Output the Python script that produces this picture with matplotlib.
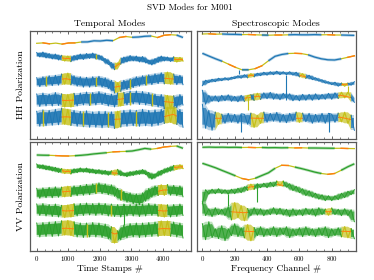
import numpy as np
import matplotlib
matplotlib.use("Agg")
import matplotlib.pyplot as plt
from matplotlib.patches import Rectangle
from matplotlib.ticker import MultipleLocator, AutoMinorLocator

plt.rcParams['font.family'] = ['cmr10', 'DejaVu Serif']
plt.rcParams['mathtext.fontset'] = 'cm'
plt.rcParams['axes.formatter.use_mathtext'] = True

# ---------------- data ----------------
title = "SVD Modes for M001"
col_titles = ["Temporal Modes", "Spectroscopic Modes"]
row_labels = ["HH Polarization", "VV Polarization"]
x_labels = ["Time Stamps #", "Frequency Channel #"]

n_time_stamps = 4640
n_channels = 940

# HH temporal modes
hh_time_m1 = [0, 0.4, -0.5, 0.2, -0.8, 0.3, 0.4, 1.3, 1.4, 2.5, 2.3, 3.0, 2.6, 5.8, 6.8, 6.0, 6.3, 7.0, 7.3, 5.8, 8.0, 8.6, 8.2, 5.8]
hh_time_m2 = [2.5, -2, 3, -3, 1.5, -4, 1, -5, -0.5, -6, -1, -6.5, -0.5, -5, 1, -4.5, 1.5, -3.5, 2, -4, 0, -5.5, -3.5, -9.5,
              -7.5, -14.5, -8, -9, -2, -7, -0.5, -6, -1, -7, -1.5, -8, -5, -10, -3.5, -7.5, -1, -6, -2, -6.5, -2, -7, -2.5, -6]
hh_time_m3 = [4, -5, 5, -4.5, 6, -4, 6.5, -3.5, 7.5, -2.5, 8.5, -3, 6, -4.5, 5, -5.5, 4.5, -5.5, 5, -5, 5.5, -5.5, 4, -7,
              1.5, -11, -1, -9.5, 1.5, -8, 3, -6, 5, -4.5, 6, -3.5, 7, -3, 8, -2, 9, -2, 9.5, -2.5, 7.5, -3, 6.5, -3]
hh_time_m4 = [6, -6.5, 7, -6, 6, -6, 7.5, -5.5, 6, -7, 5.5, -7, 6.5, -6, 7, -5, 8, -5.5, 7.5, -5, 8.5, -4.5, 7, -6,
              6, -7, 7, -6, 7.5, -5, 9, -4, 9, -4.5, 8.5, -5, 7.5, -6, 6, -7, 5.5, -8.5, 4.5, -9, 4, -7.5, 5.5, -5]
hh_time_m5 = [7, -8, 8.5, -7.5, 8, -7, 9, -6.5, 10, -6, 9, -7, 8, -8, 7, -8.5, 7.5, -9, 6.5, -9, 7, -9.5, 7, -9,
              6.5, -10, 7, -8.5, 8, -8, 8.5, -7.5, 8, -8, 9, -7.5, 8, -8, 8.5, -7, 9, -5, 11, -4, 11.5, -6, 9, -9]
hh_time_smooth_m2 = [0, -0.5, -2, -3.5, -3.2, -2, -1, -5, -12, -5.5, -3.5, -4, -6.5, -3.5, -4.3, -4.7]
hh_time_smooth_m3 = [0, 0.4, 1.8, 3, 1, -0.5, 0, -1, -5.5, -3.5, -1, 1.2, 2.7, 3.5, 2.7, 1]
hh_time_smooth_m4 = [0, 0.3, 0, -0.5, 0, 1, 1.3, 1, 0, 1.5, 2.5, 2, 0.5, -1.5, -2.5, 0]
hh_time_smooth_m5 = [0, 0.3, 1, 1.5, 0.8, -0.5, -1, -1, -1, -0.5, 0, 0, 0.3, 1.5, 4, -1]
hh_time_flags = [
    [(180, 420), (780, 1230), (2600, 2850), (3800, 4250)],
    [(880, 1000), (2550, 2600), (4430, 4550)],
    [(880, 1000), (2550, 2600), (4100, 4260)],
    [(880, 1100), (2600, 2680), (4100, 4260)],
    [(800, 1000), (2550, 2600), (4100, 4360)],
]
hh_time_marks = [[], [1875], [296, 1875, 2961, 3454], [1678, 2961, 3652], [197, 1480, 2270, 3158]]
hh_time_dips = [[], [], [], [], []]

# HH spectroscopic modes
hh_spec_m1 = [0, 0.2, -0.2, 0, -0.3, -0.4, -0.6, -0.5, -0.8, -1, -1.2, -1, -1, -0.8, -0.6, -0.8, -0.8, -0.6, -0.8, -0.7, -1, -1, -1.2, -1.4]
hh_spec_m2 = [0, -2.8, -5.5, -8, -11, -14, -16.5, -16.5, -15.3, -12.5, -7.5, -3, -1.2, -0.2, 0, -0.3, -1.5, -3.8, -5.5, -6.5, -6.7, -5.5, -4, -2.5]
hh_spec_m3 = [-4, 1.5, -1, 2.5, 0, 3.5, 1, 4, 1.5, 4.5, 3, 6, 3.5, 7, 4, 8, 5, 8.5, 6, 9.5, 6.5, 10, 7, 10.5,
              7, 10, 7, 10, 6.5, 9.5, 5, 8, 3.5, 6.5, 2, 4, 0.5, 2, -1.5, 0, -3, -0.5, -4.5, -1.5, -4.5, -1.5, -3.5, 0]
hh_spec_m4 = [8, -6, 3, -3, 2.5, -3.5, 3, -2.5, 3.5, -3, 2, -3.5, 3, -3, 2.5, 3.5, -2, 5, -1, 5.5, -0.5, 6, -1, 4.5,
              -1.5, 5, 0, 4.5, -2.5, 3, -2.5, 4, -2, 4, -2, 4.5, -1.5, 4, -1, 5, -1, 5.5, 0, 6, 0.5, 6, 1, -4]
hh_spec_m5 = [14, -10, 8, -12, 6, -6, 4, -5, 5, -4, 4, -5, 4.5, 4, -6, 5, -9, 3, -5, 6, -4, 5, -3, 6,
              -4, 4, -4.5, 5, -3, 6, -4, 5, -3.5, 5, -5, 4, -4, 5, -5, 5, 4, -4, 5, -3.5, 6, -5, 3, -12]
hh_spec_smooth_m3 = [-1, 1.5, 3.5, 5.5, 7, 8.3, 8.5, 6.5, 3, -1, -3, -1.7]
hh_spec_smooth_m4 = [0, 0, 0, 0, 2, 1.5, 1, 0.5, 1, 1.5, 3, 0]
hh_spec_smooth_m5 = [1, 0, 0, 0.5, 0, 0, 0, 0, 0, 0, 1, -2]
hh_spec_flags = [
    [(35, 90), (280, 340), (440, 500), (770, 830)],
    [(160, 210), (320, 380), (570, 620), (890, 940)],
    [(295, 305), (615, 625), (875, 885)],
    [(275, 285), (335, 345), (855, 865), (895, 905)],
    [(95, 105), (315, 365), (595, 605), (855, 905)],
]
hh_spec_marks = [[], [], [], [], []]
hh_spec_dips = [[], [(225, -21)], [(520, -18)], [(280, -12), (900, 12)], [(240, -14), (780, -14)]]

# VV temporal modes
vv_time_m1 = [0, -0.2, -0.3, -0.6, -0.9, -1, -0.7, -0.3, 0.3, 1.1, 1.7, 2.3, 3.1, 3.4, 3.6, 4, 5.2, 6.6, 5.8, 6.6, 8, 8.6, 9, 6.7]
vv_time_m2 = [2, -2.5, 1.2, -3.8, 0, -5, -1.3, -6.5, -2.8, -7.5, -3.5, -7.8, -2.8, -6.7, -1.9, -6.2, -2, -7, -3, -7.8, -3.6, -8.4, -4.4, -9.2,
              -5, -9.2, -3.6, -9.7, -6.8, -10.7, -5.6, -9.5, -4.6, -8.4, -3.5, -8.7, -6.3, -13.2, -7.8, -10.2, -4.3, -7.2, -1.8, -5.2, 0.4, -3.4, 1.2, -2.5]
vv_time_m3 = [5, -5, 5.5, -4.5, 6, -4.5, 6.5, -4, 6, -3.5, 7, -3, 7.5, -2.5, 8, -2, 9, -1.5, 9.5, -0.5, 10.5, -0.5, 9.5, -1.5,
              8.5, -3, 5, -7, 2, -9, 0.5, -10.5, -0.5, -11.5, 0.5, -8, 5, -4, 7.5, -2, 8.5, -2, 8.5, -2, 8, -2.5, 7.5, -3.5]
vv_time_m4 = [6, -5.5, 6.5, -6, 5.5, -6.5, 6, -7, 4.5, -7.5, 5, -7, 6, -6, 6.5, -5.5, 7, -5, 6.5, -5.5, 7, -5, 6.5, -6,
              6, -6.5, 5.5, -7, 6, -6, 5.5, -6, 6, -6.5, 6, -6, 6.5, -5.5, 6, -6, 5.5, -7, 5, -7, 5.5, -6.5, 6, -5.5]
vv_time_m5 = [7, -7, 7.5, -6.5, 8, -6.5, 8.5, -6, 9, -5, 9.5, -5.5, 8, -7, 7, -7.5, 7, -7, 7.5, -7, 7, -7.5, 6, -9,
              3, -13, -1, -10, 5, -8, 6.5, -7, 7, -7.5, 7, -7, 7.5, -6.5, 8, -6, 9, -5.5, 9, -6, 8, -7, 7, -8]
vv_time_smooth_m2 = [0, -1.6, -3.5, -5.5, -5, -4.1, -5.5, -6.4, -7, -8.5, -7.3, -6, -10, -5, -1.5, -0.7]
vv_time_smooth_m3 = [0, 0.5, 1.1, 1.7, 2.6, 3.3, 4.5, 4.5, 3, -2, -5, -4.5, 1, 3.3, 3.3, 1.7]
vv_time_smooth_m4 = [0, 0, 0, -1, -0.5, 0, 0, 0, 0, 0, 0, 0, 0, -1, -0.5, 0]
vv_time_smooth_m5 = [0, 0.5, 1, 1.8, 1, 0, 0, 0, -4, -1, 0, 0, 0.5, 1.5, 1, 0]
vv_time_flags = [
    [(600, 1050), (2400, 2650), (3800, 4250)],
    [(880, 1000), (2450, 2500), (4430, 4550)],
    [(880, 1000), (3900, 4060)],
    [(880, 1100), (3900, 4060)],
    [(880, 1100), (2450, 2500), (3900, 4160)],
]
vv_time_marks = [[], [], [1875, 2665], [2369], [1579]]
vv_time_dips = [[], [], [], [(2763, -15)], []]

# VV spectroscopic modes
vv_spec_m1 = [0, 0.2, 0, 0.1, -0.1, 0, -0.2, -0.1, -0.3, -0.2, -0.4, -0.3, -0.5, -0.4, -0.6, -0.5, -0.7, -0.7, -0.8, -0.9, -1, -1, -1.2, -1.3]
vv_spec_m2 = [0, -2.2, -4.5, -7.2, -9.8, -12.5, -15.2, -16.5, -15, -12.2, -9.5, -5, -2, -2.2, -3.8, -5.3, -7, -8.8, -10.2, -11, -10.2, -7, -3.5, -0.5]
vv_spec_m3 = [-12, 2, -2.5, 2.5, -2, 3, -2, 2, -2.5, 2.5, -2, 3.5, -1, 5, 1.5, 7.5, 2.5, 8, 4, 8.5, 4, 9.5, 5, 10.5,
              6, 10.5, 4.5, 8, 1, 5.5, -1, 3, -4, 1, -5.5, -1.5, -7.5, -3, -9, -4, -9, -4, -8, -1.5, -6, 0.5, -3, 2]
vv_spec_m4 = [10, -4, 3, -5, 4, -3, 2.5, -4, 5, -8, 9, -6, 6, -9, 3, -4, 4, -3.5, 3, -4, 2, -3, 4, -3,
              3.5, -3.5, 2.5, -5, 3, -4, 2, -4, 3.5, -3, 3, -4.5, 4, -3, 2.5, -3.5, 3.5, -3, 2.5, -4, 3, -4, 2, -10]
vv_spec_m5 = [8, -8, 10, -6, 3, -7, 6, -9, 3, -4, 8, -5, 4, -6, 7, -9, 4, -4, 5, -5, 3, -4, 5, -5,
              4, -3, 5, -6, 3, -4, 4, -5, 5, -4, 3, -5, 4, -4, 5, -6, 3, -4, 4, -5, 5, -6, 3, -7]
vv_spec_smooth_m3 = [-3, 0.5, 0.5, 3.5, 6, 8, 6, 1, -3.5, -6.5, -4, 0]
vv_spec_smooth_m4 = [2, 0, 0, -1, 0, 0, 0, 0, 0, 0, 0, -3]
vv_spec_smooth_m5 = [0, 0, 0, 0.5, 0, 0, 0, 0, 0, 0, 0.5, 0]
vv_spec_flags = [
    [(280, 340), (560, 620), (850, 900)],
    [(240, 300), (480, 540), (760, 830)],
    [(290, 310), (475, 485)],
    [(190, 270), (775, 785)],
    [(270, 310), (870, 910)],
]
vv_spec_marks = [[], [], [], [], []]
vv_spec_dips = [[], [], [(160, -14), (340, -10)], [], []]

# ---------------- layout / style ----------------
W, H = 374, 280
fig = plt.figure(figsize=(W / 100, H / 100), dpi=100)

def px_axes(x0, y0, x1, y1):
    return fig.add_axes([x0 / W, 1 - y1 / H, (x1 - x0) / W, (y1 - y0) / H])

ax_tl = px_axes(30, 31, 190.5, 139)
ax_tr = px_axes(196.7, 31, 356, 139)
ax_bl = px_axes(30, 142, 190.5, 251)
ax_br = px_axes(196.7, 142, 356, 251)

YELLOW = '#c4c01a'
ORANGE = '#ff7f0e'
BLUE = '#1f77b4'
GREEN = '#2ca02c'

t_smooth = np.linspace(0, n_time_stamps, 24)
t_noisy = np.linspace(0, n_time_stamps, 48)
t_coarse = np.linspace(0, n_time_stamps, 16)
f_smooth = np.linspace(0, n_channels, 24)
f_noisy = np.linspace(0, n_channels, 48)
f_coarse = np.linspace(0, n_channels, 12)


def flag_mask(x, flags):
    m = np.zeros(len(x), dtype=bool)
    for a, b in flags:
        m |= (x >= a) & (x <= b)
    return m


def envelope(y):
    yp = np.pad(y, 1, mode='edge')
    lo = np.minimum(np.minimum(yp[:-2], yp[1:-1]), yp[2:])
    hi = np.maximum(np.maximum(yp[:-2], yp[1:-1]), yp[2:])
    return lo, hi


def draw_mode(ax, x, y, off, flags, color, smooth=None, xs=None, marks=(), dips=(),
              core_alpha=0.9):
    y = np.asarray(y, float) + off
    m = flag_mask(x, flags)
    step = x[1] - x[0]
    mp = np.pad(m, 1)
    near = mp[:-2] | mp[1:-1] | mp[2:]          # flagged samples and their neighbours
    yb = np.where(m, np.nan, y)
    for xd, vd in dips:
        i = int(np.argmin(np.abs(x - xd)))
        ax.vlines(xd, y[i], off + vd, color=YELLOW if m[i] else color, lw=0.8, zorder=4)
    if smooth is None:
        ax.plot(x, np.where(near, y, np.nan), color=YELLOW, lw=0.9, zorder=1)
        ax.plot(x, np.where(m, y, np.nan), color=ORANGE, lw=1.0, zorder=2)
        ax.plot(x, yb, color=color, lw=2.0, alpha=0.35, zorder=3, solid_capstyle='butt')
        ax.plot(x, yb, color=color, lw=0.9, zorder=4, solid_capstyle='butt')
        return
    lo, hi = envelope(y)
    mid, half = (lo + hi) / 2, (hi - lo) / 2
    ax.fill_between(x, lo, hi, where=near, color=YELLOW, alpha=0.9 * core_alpha, lw=0, zorder=1)
    ax.plot(x, np.where(near, y, np.nan), color=YELLOW, lw=0.9, zorder=1)
    ys = np.asarray(smooth, float) + off
    for a, b in flags:
        ln, = ax.plot(xs, ys, color=ORANGE, lw=0.7, zorder=2)
        ln.set_clip_path(Rectangle((a - 0.9 * step, -500), (b - a) + 1.8 * step, 1000,
                                   transform=ax.transData))
    ax.fill_between(x, lo, hi, where=~m, color=color, alpha=0.3, lw=0, zorder=3)
    ax.fill_between(x, mid - 0.7 * half, mid + 0.7 * half, where=~m, color=color,
                    alpha=core_alpha, lw=0, zorder=3)
    ax.plot(x, yb, color=color, lw=0.7, zorder=4)
    for ts in marks:
        i = int(np.argmin(np.abs(x - ts)))
        ax.vlines(x[i], lo[i] + 0.5, hi[i] - 0.5, color=YELLOW, lw=1.0, zorder=5)


panels = [
    (ax_tl, BLUE, [95.7, 84, 57.3, 39, 20.7], 108, True,
     [hh_time_m1, hh_time_m2, hh_time_m3, hh_time_m4, hh_time_m5],
     [None, hh_time_smooth_m2, hh_time_smooth_m3, hh_time_smooth_m4, hh_time_smooth_m5],
     hh_time_flags, hh_time_marks, hh_time_dips),
    (ax_tr, BLUE, [105, 85.7, 57.3, 40.7, 20.7], 108, False,
     [hh_spec_m1, hh_spec_m2, hh_spec_m3, hh_spec_m4, hh_spec_m5],
     [None, None, hh_spec_smooth_m3, hh_spec_smooth_m4, hh_spec_smooth_m5],
     hh_spec_flags, hh_spec_marks, hh_spec_dips),
    (ax_bl, GREEN, [96, 85, 57.7, 41, 21], 109, True,
     [vv_time_m1, vv_time_m2, vv_time_m3, vv_time_m4, vv_time_m5],
     [None, vv_time_smooth_m2, vv_time_smooth_m3, vv_time_smooth_m4, vv_time_smooth_m5],
     vv_time_flags, vv_time_marks, vv_time_dips),
    (ax_br, GREEN, [103.7, 87.7, 59.3, 39.3, 19.3], 109, False,
     [vv_spec_m1, vv_spec_m2, vv_spec_m3, vv_spec_m4, vv_spec_m5],
     [None, None, vv_spec_smooth_m3, vv_spec_smooth_m4, vv_spec_smooth_m5],
     vv_spec_flags, vv_spec_marks, vv_spec_dips),
]

for ax, color, offs, ytop, temporal, modes, smooths, flags, marks, dips in panels:
    for y, off, sm, fl, mk, dp in zip(modes, offs, smooths, flags, marks, dips):
        if temporal:
            x = t_smooth if len(y) == 24 else t_noisy
            xs = t_coarse
        else:
            x = f_smooth if len(y) == 24 else f_noisy
            xs = f_coarse
        draw_mode(ax, x, y, off, fl, color, sm, xs, mk, dp,
                  core_alpha=0.9 if temporal else 0.75)
    ax.set_ylim(0, ytop)
    ax.set_yticks([])
    if temporal:
        ax.set_xlim(-212, 4877)
        ax.xaxis.set_major_locator(MultipleLocator(1000))
    else:
        ax.set_xlim(-35, 950)
        ax.xaxis.set_major_locator(MultipleLocator(200))
    ax.xaxis.set_minor_locator(AutoMinorLocator(4))
    ax.tick_params(axis='x', which='both', direction='in', top=True, bottom=True,
                   labelsize=5, pad=2, color='0.3')
    ax.tick_params(axis='x', which='major', length=2.5, width=0.6)
    ax.tick_params(axis='x', which='minor', length=1.3, width=0.5)
    for s in ax.spines.values():
        s.set_color('0.35')
        s.set_linewidth(0.9)

for ax in (ax_tl, ax_tr):
    ax.tick_params(axis='x', labelbottom=False)

ax_bl.set_xlabel(x_labels[0], fontsize=6.8, labelpad=1.5)
ax_br.set_xlabel(x_labels[1], fontsize=6.8, labelpad=1.5)

fig.text(190 / W, 1 - 8 / H, title, ha='center', va='center', fontsize=6.5)
fig.text(110 / W, 1 - 24 / H, col_titles[0], ha='center', va='center', fontsize=7)
fig.text(276 / W, 1 - 24 / H, col_titles[1], ha='center', va='center', fontsize=7)
fig.text(21 / W, 1 - 85 / H, row_labels[0], ha='center', va='center', rotation=90, fontsize=7)
fig.text(21 / W, 1 - 196.5 / H, row_labels[1], ha='center', va='center', rotation=90, fontsize=7)

fig.savefig("out.png", dpi=100)
